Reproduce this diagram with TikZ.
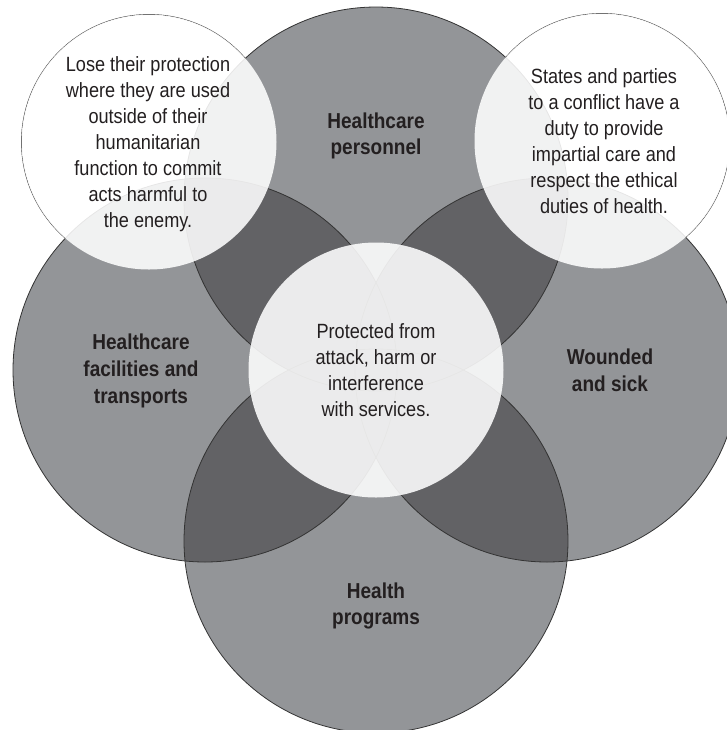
\documentclass[tikz,border=0pt]{standalone}
\usepackage{fontspec}
\setmainfont{Liberation Sans}[FakeStretch=0.88]
\definecolor{ringgrey}{HTML}{939598}
\definecolor{lensgrey}{HTML}{626265}
\definecolor{inkgrey}{HTML}{231F20}

\begin{document}
\begin{tikzpicture}[x=0.5pt,y=-0.5pt,
  ring/.style={circle,fill=ringgrey,inner sep=0pt,outer sep=0pt,minimum size=192pt},
  bubble/.style={circle,fill=white,fill opacity=0.88,inner sep=0pt,outer sep=0pt,minimum size=127.5pt},
  rim/.style={draw=black!80,line width=0.4pt},
  txt/.style={align=center,text=inkgrey,font=\fontsize{10.3}{13}\selectfont},
  hd/.style={align=center,text=inkgrey,font=\fontsize{10.8}{13.3}\selectfont\bfseries}]
\useasboundingbox (0,0) rectangle (727,730);
\clip (0,0) rectangle (727,730);
\coordinate (c) at (376,370);
\coordinate (n) at (376,199);
\coordinate (s) at (376,541);
\coordinate (w) at (205,370);
\coordinate (e) at (547,370);
\coordinate (nw) at (149,142);
\coordinate (ne) at (602,141);
\draw[rim] (nw) circle (63.75pt) (ne) circle (63.75pt); % only shows on the white
\foreach \p in {n,w,e,s} \node[ring] (ring-\p) at (\p) {};
\foreach \a/\b in {n/w,n/e,s/w,s/e,n/s,w/e} {
  \begin{scope}
  \clip (\a) circle (96pt);
  \fill[lensgrey] (\b) circle (96pt);
  \end{scope}
}
\foreach \p in {n,w,e,s} \draw[rim] (\p) circle (96pt);
\node[bubble] (mid) at (c) {};
\node[bubble] (lose) at (nw) {};
\node[bubble] (duty) at (ne) {};
\node[txt] (lose-text) at (148,144) {Lose their protection\\where they are used\\outside of their\\humanitarian\\function to commit\\acts harmful to\\the enemy.};
\node[txt] (duty-text) at (604,141) {States and parties\\to a conflict have a\\duty to provide\\impartial care and\\respect the ethical\\duties of health.};
\node[txt] (mid-text) at (376,370) {Protected from\\attack, harm or\\interference\\with services.};
\node[hd] (staff) at (376,136) {Healthcare\\personnel};
\node[hd] (sites) at (141,371) {Healthcare\\facilities and\\transports};
\node[hd] (sick) at (610,370) {Wounded\\and sick};
\node[hd] (prog) at (376,606) {Health\\programs};
\end{tikzpicture}
\end{document}
